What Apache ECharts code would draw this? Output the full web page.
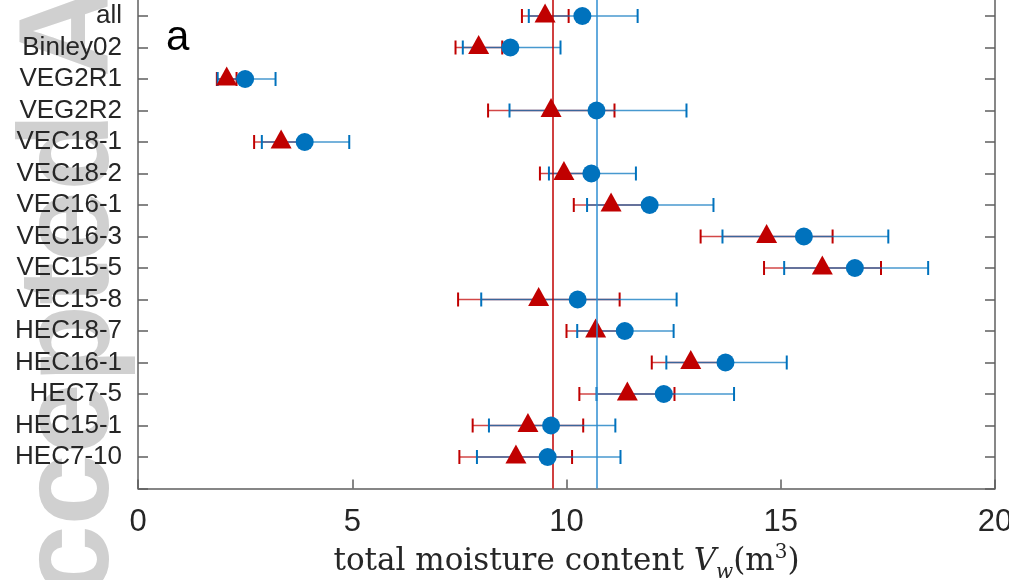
<!DOCTYPE html>
<html>
<head>
<meta charset="utf-8">
<script src="https://cdn.jsdelivr.net/npm/echarts@6/dist/echarts.min.js"></script>
<style>html,body{margin:0;padding:0;background:#fff;}#c{width:1009px;height:580px;}</style>
</head>
<body>
<div id="c"></div>
<script>
const categories = ['all','Binley02','VEG2R1','VEG2R2','VEC18-1','VEC18-2','VEC16-1','VEC16-3','VEC15-5','VEC15-8','HEC18-7','HEC16-1','HEC7-5','HEC15-1','HEC7-10'];
const blueMean = [10.37, 8.69, 2.50, 10.70, 3.89, 10.58, 11.94, 15.54, 16.73, 10.26, 11.36, 13.71, 12.27, 9.64, 9.56];
const blueLow  = [9.12, 7.58, 1.86, 8.67, 2.89, 9.59, 10.48, 13.64, 15.08, 8.01, 10.25, 12.33, 10.70, 8.19, 7.91];
const blueHigh = [11.66, 9.86, 3.21, 12.80, 4.93, 11.62, 13.43, 17.51, 18.44, 12.57, 12.50, 15.14, 13.91, 11.14, 11.26];
const redMean  = [9.50, 7.95, 2.07, 9.64, 3.34, 9.94, 11.04, 14.67, 15.97, 9.35, 10.68, 12.90, 11.42, 9.10, 8.82];
const redLow   = [8.96, 7.41, 1.84, 8.17, 2.71, 9.38, 10.17, 13.13, 14.61, 7.47, 10.00, 11.99, 10.30, 7.81, 7.50];
const redHigh  = [10.05, 8.50, 2.30, 11.12, 3.97, 10.50, 11.91, 16.21, 17.34, 11.24, 11.36, 13.81, 12.52, 10.39, 10.13];
const redOverall = 9.67;
const blueOverall = 10.70;
const xTicks = [0, 5, 10, 15, 20];

const RED = '#C00000';
const BLUE = '#0072BD';
const AX = '#5f5f5f';
const TXT = '#262626';

function errRender(color) {
  return function (params, api) {
    const lo = api.coord([api.value(0), api.value(1)]);
    const hi = api.coord([api.value(2), api.value(1)]);
    const h = 7;
    return {
      type: 'group',
      children: [
        {type: 'line', shape: {x1: lo[0], y1: lo[1], x2: hi[0], y2: hi[1]}, style: {stroke: color, lineWidth: 1.6, opacity: 0.72}},
        {type: 'line', shape: {x1: lo[0], y1: lo[1] - h, x2: lo[0], y2: lo[1] + h}, style: {stroke: color, lineWidth: 2}},
        {type: 'line', shape: {x1: hi[0], y1: hi[1] - h, x2: hi[0], y2: hi[1] + h}, style: {stroke: color, lineWidth: 2}}
      ]
    };
  };
}

const redErr = categories.map((c, i) => [redLow[i], i + 1, redHigh[i]]);
const blueErr = categories.map((c, i) => [blueLow[i], i + 1, blueHigh[i]]);
const redPts = categories.map((c, i) => [redMean[i], i + 1]);
const bluePts = categories.map((c, i) => [blueMean[i], i + 1]);

const chart = echarts.init(document.getElementById('c'), null, {renderer: 'canvas'});
const yCommon = {
  type: 'value', min: 0, max: 16, interval: 1, inverse: true,
  splitLine: {show: false},
  axisLine: {show: true, onZero: false, lineStyle: {color: AX, width: 1.5}},
  axisTick: {show: true, inside: true, length: 10, lineStyle: {color: AX, width: 1.5}}
};
chart.setOption({
  animation: false,
  backgroundColor: '#fff',
  grid: {left: 138, right: 14, top: -15.5, bottom: 91.5, containLabel: false, outerBoundsMode: 'none',
         show: true, backgroundColor: '#fff', borderWidth: 0, z: 0},
  graphic: [
    {type: 'text', z: -10, x: 137, y: 689, rotation: Math.PI / 2,
     style: {text: 'Accepted Article', font: 'bold 128px "Liberation Sans"', fill: '#d0d0d0', align: 'left', verticalAlign: 'bottom'}},
    {type: 'text', z: 100, x: 166, y: 38,
     style: {text: 'a', font: '42px "Liberation Sans"', fill: '#000', align: 'left', verticalAlign: 'middle'}}
  ],
  xAxis: {
    type: 'value', min: xTicks[0], max: xTicks[xTicks.length - 1], interval: 5,
    splitLine: {show: false},
    axisLine: {show: true, onZero: false, lineStyle: {color: AX, width: 1.5}},
    axisTick: {show: true, inside: true, length: 9, lineStyle: {color: AX, width: 1.5}},
    axisLabel: {fontSize: 31, fontFamily: 'Liberation Sans', color: TXT, margin: 18},
    name: '{n|total moisture content }{i|V}{s|w}{n|(m}{p|3}{n|)}',
    nameLocation: 'middle', nameGap: 37,
    nameTextStyle: {
      rich: {
        n: {fontSize: 31, fontFamily: 'DejaVu Serif', color: TXT, lineHeight: 40},
        i: {fontSize: 31, fontFamily: 'DejaVu Serif', fontStyle: 'italic', color: TXT, lineHeight: 40},
        s: {fontSize: 20, fontFamily: 'DejaVu Serif', fontStyle: 'italic', color: TXT, verticalAlign: 'bottom', lineHeight: 40},
        p: {fontSize: 20, fontFamily: 'DejaVu Serif', color: TXT, verticalAlign: 'top', lineHeight: 40}
      }
    }
  },
  yAxis: [
    Object.assign({}, yCommon, {
      position: 'left',
      axisLabel: {fontSize: 26, fontFamily: 'Liberation Sans', color: TXT, margin: 16,
        formatter: v => (v >= 1 && v <= categories.length) ? categories[v - 1] : ''}
    }),
    Object.assign({}, yCommon, {position: 'right', axisLabel: {show: false}})
  ],
  series: [
    {type: 'custom', name: 'redErr', renderItem: errRender(RED), data: redErr, encode: {x: [0, 2], y: 1}, z: 2,
     markLine: {silent: true, symbol: 'none', label: {show: false}, lineStyle: {color: RED, width: 1.5, type: 'solid'}, data: [{xAxis: redOverall}]}},
    {type: 'custom', name: 'blueErr', renderItem: errRender(BLUE), data: blueErr, encode: {x: [0, 2], y: 1}, z: 3,
     markLine: {silent: true, symbol: 'none', label: {show: false}, lineStyle: {color: '#2f8ed2', width: 1.5, type: 'solid'}, data: [{xAxis: blueOverall}]}},
    {type: 'scatter', name: 'red', data: redPts, symbol: 'triangle', symbolSize: [21, 19], symbolOffset: [0, -3], itemStyle: {color: RED, opacity: 1}, z: 4},
    {type: 'scatter', name: 'blue', data: bluePts, symbol: 'circle', symbolSize: 18, itemStyle: {color: BLUE, opacity: 1}, z: 5}
  ]
});
</script>
</body>
</html>
